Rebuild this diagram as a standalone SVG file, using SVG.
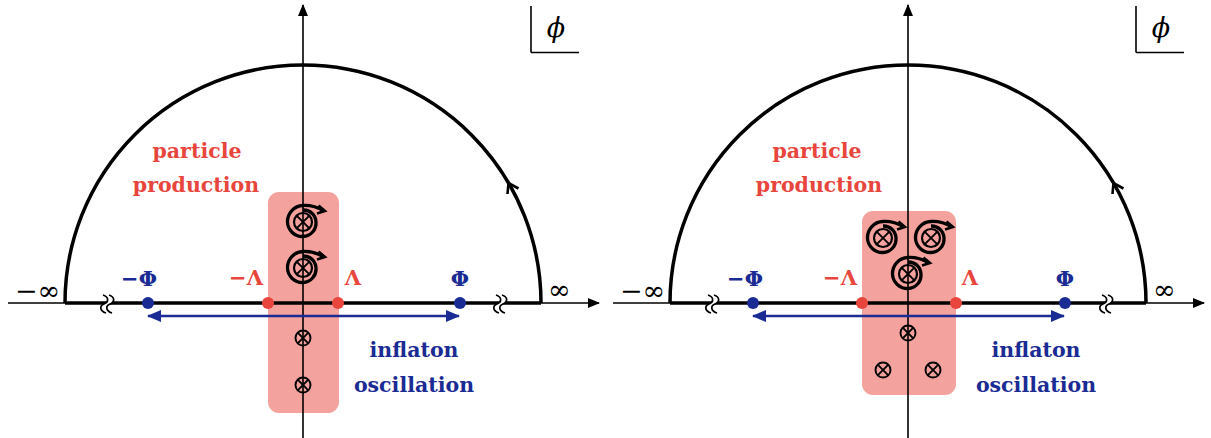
<svg xmlns="http://www.w3.org/2000/svg" width="1211" height="438" viewBox="0 0 1211 438">
<style>
.thin{stroke:#000;stroke-width:1.6;fill:none}
.thick{stroke:#000;stroke-width:3.5;fill:none}
.box{fill:#f3a29e}
.blue{fill:#1a2b93}
.red{fill:#e8453c}
.lbl{font-family:"DejaVu Serif",serif;font-weight:bold;font-size:20.5px;text-anchor:middle}
.sym{font-family:"DejaVu Serif",serif;font-weight:bold;font-size:21px;text-anchor:middle}
.inf{font-family:"DejaVu Serif",serif;font-size:27px;fill:#000}
.phi{font-family:"DejaVu Serif",serif;font-style:italic;font-size:27px;text-anchor:middle;fill:#000}
.ba{stroke:#1a2b93;stroke-width:2.6;fill:none}
</style>
<defs>
<g id="otimes">
<circle r="7.5" fill="none" stroke="#000" stroke-width="1.9"/>
<path d="M-5.3,-5.3 L5.3,5.3 M-5.3,5.3 L5.3,-5.3" stroke="#000" stroke-width="1.9"/>
</g>
<g id="spiral">
<circle r="9" fill="none" stroke="#000" stroke-width="2.2"/>
<path d="M-6.4,-6.4 L6.4,6.4 M-6.4,6.4 L6.4,-6.4" stroke="#000" stroke-width="1.9"/>
<path d="M0,-12 A12.5,12.5 0 0 1 13,0 A13.5,13.5 0 0 1 0,14.5 A15,15 0 0 1 -15.5,0 A16,16 0 0 1 0,-16.5 Q11,-17 21,-11" fill="none" stroke="#000" stroke-width="3.3"/>
<path d="M15.5,-16.5 L22,-11 L14,-8.5" fill="none" stroke="#000" stroke-width="2.6"/>
</g>
<g id="brk">
<path d="M-4,-9 C2,-7 2,-2 -3,0 C-8,2 -7,7 -1,9 L5,9 C-1,7 -2,2 3,0 C8,-2 8,-7 2,-9 Z" fill="#fff" stroke="none"/>
<path d="M-4,-9 C2,-7 2,-2 -3,0 C-8,2 -7,7 -1,9 M2,-9 C8,-7 8,-2 3,0 C-2,2 -1,7 5,9" fill="none" stroke="#000" stroke-width="1.7"/>
</g>
<marker id="ah" viewBox="0 0 12 10" refX="11" refY="5" markerWidth="12" markerHeight="10" markerUnits="userSpaceOnUse" orient="auto">
<path d="M0,0 L12,5 L0,10 Z" fill="#000"/>
</marker>
<marker id="bh" viewBox="0 0 14 12" refX="13" refY="6" markerWidth="14" markerHeight="12" markerUnits="userSpaceOnUse" orient="auto-start-reverse">
<path d="M0,0 L14,6 L0,12 Z" fill="#1a2b93"/>
</marker>
</defs>

<g id="panel-left">
<g id="region-left"><rect class="box" x="268" y="192" width="71" height="221" rx="11"/></g>
<g id="axes-left">
<line class="thin" x1="303" y1="438" x2="303" y2="5" marker-end="url(#ah)"/>
<line class="thin" x1="8" y1="303" x2="599" y2="303" marker-end="url(#ah)"/>
<line class="thick" x1="65" y1="303" x2="541" y2="303"/>
<path class="thick" d="M65,303 A238,238 0 0 1 541,303"/>
<path d="M518.5,188.5 L508.5,183 L507.5,194" fill="none" stroke="#000" stroke-width="2.6"/>
<use href="#brk" x="107" y="304"/>
<use href="#brk" x="500" y="304"/>
<line class="ba" x1="148" y1="316" x2="459" y2="316" marker-start="url(#bh)" marker-end="url(#bh)"/>
<line class="thin" x1="531" y1="6" x2="531" y2="52.5"/>
<line class="thin" x1="531" y1="52.5" x2="579" y2="52.5"/>
</g>
<g id="points-left">
<circle class="blue" cx="148" cy="303" r="6"/>
<circle class="blue" cx="460" cy="303" r="6"/>
<circle class="red" cx="268" cy="303" r="6"/>
<circle class="red" cx="338" cy="303" r="6"/>
<use href="#spiral" x="303" y="222"/>
<use href="#spiral" x="303" y="268"/>
<use href="#otimes" x="303" y="338"/>
<use href="#otimes" x="303" y="385"/>
</g>
<g id="labels-left">
<text class="inf" x="15" y="300">−∞</text>
<text class="inf" x="548" y="299">∞</text>
<text class="sym" x="139" y="286" fill="#1a2b93">−Φ</text>
<text class="sym" x="460" y="286" fill="#1a2b93">Φ</text>
<text class="sym" x="246" y="285" fill="#e8453c">−Λ</text>
<text class="sym" x="353" y="285" fill="#e8453c">Λ</text>
<text class="lbl" x="197" y="158" fill="#e8453c">particle</text>
<text class="lbl" x="196" y="192" fill="#e8453c">production</text>
<text class="lbl" x="414" y="357" fill="#1a2b93">inflaton</text>
<text class="lbl" x="414" y="392" fill="#1a2b93">oscillation</text>
<text class="phi" x="556" y="37">ϕ</text>
</g>
</g>

<g id="panel-right">
<g id="region-right"><rect class="box" x="862" y="211" width="94" height="184" rx="11"/></g>
<g id="axes-right">
<line class="thin" x1="908" y1="438" x2="908" y2="5" marker-end="url(#ah)"/>
<line class="thin" x1="613" y1="303" x2="1204" y2="303" marker-end="url(#ah)"/>
<line class="thick" x1="670" y1="303" x2="1146" y2="303"/>
<path class="thick" d="M670,303 A238,238 0 0 1 1146,303"/>
<path d="M1123.5,188.5 L1113.5,183 L1112.5,194" fill="none" stroke="#000" stroke-width="2.6"/>
<use href="#brk" x="712" y="304"/>
<use href="#brk" x="1106" y="304"/>
<line class="ba" x1="753" y1="316" x2="1064" y2="316" marker-start="url(#bh)" marker-end="url(#bh)"/>
<line class="thin" x1="1136" y1="6" x2="1136" y2="52.5"/>
<line class="thin" x1="1136" y1="52.5" x2="1184" y2="52.5"/>
</g>
<g id="points-right">
<circle class="blue" cx="753" cy="303" r="6"/>
<circle class="blue" cx="1065" cy="303" r="6"/>
<circle class="red" cx="862" cy="303" r="6"/>
<circle class="red" cx="956" cy="303" r="6"/>
<use href="#spiral" x="883" y="238"/>
<use href="#spiral" x="931" y="238"/>
<use href="#spiral" x="908" y="274"/>
<use href="#otimes" x="908" y="333"/>
<use href="#otimes" x="883" y="370"/>
<use href="#otimes" x="933" y="370"/>
</g>
<g id="labels-right">
<text class="inf" x="620" y="300">−∞</text>
<text class="inf" x="1153" y="299">∞</text>
<text class="sym" x="745" y="286" fill="#1a2b93">−Φ</text>
<text class="sym" x="1065" y="286" fill="#1a2b93">Φ</text>
<text class="sym" x="840" y="285" fill="#e8453c">−Λ</text>
<text class="sym" x="970" y="285" fill="#e8453c">Λ</text>
<text class="lbl" x="817" y="158" fill="#e8453c">particle</text>
<text class="lbl" x="819" y="192" fill="#e8453c">production</text>
<text class="lbl" x="1036" y="357" fill="#1a2b93">inflaton</text>
<text class="lbl" x="1036" y="392" fill="#1a2b93">oscillation</text>
<text class="phi" x="1161" y="37">ϕ</text>
</g>
</g>
</svg>
